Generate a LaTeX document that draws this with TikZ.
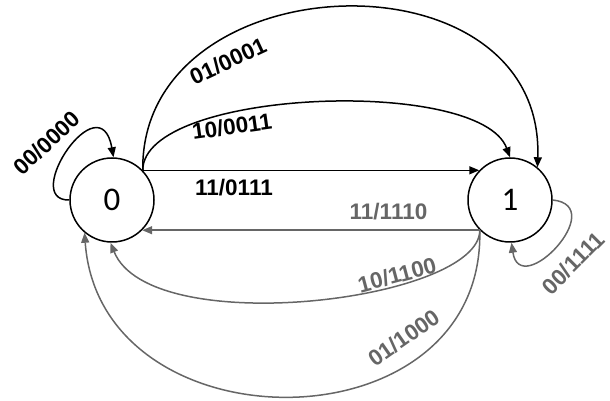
\documentclass[tikz,border=0pt]{standalone}
\usepackage{fontspec}
\setmainfont{Liberation Sans}
\newfontfamily\statefont{Carlito}
\usetikzlibrary{arrows.meta}
\definecolor{backgray}{HTML}{666666}
\newcommand{\statesize}{84pt}
\newcommand{\labelfont}{\fontsize{22.5}{26}\selectfont\bfseries}

\tikzset{
    trans/.style={line width=1.5pt},
    translabel/.style={font=\labelfont,inner sep=0pt}
}

\begin{document}
\begin{tikzpicture}[x=1pt,y=1pt]
                \useasboundingbox (0,0) rectangle (610,401);
                \begin{scope}[every node/.style={circle,draw,line width=1.5pt,minimum size=\statesize,inner sep=0pt,font=\statefont\fontsize{33}{33}\selectfont}]
                    \node (s0) at (112,201) {0};
                    \node (s1) at (510,201) {1};
                \end{scope}

                % transitions out of state 0
                \begin{scope}[>={Stealth[length=10pt,width=8pt,inset=0pt]},
                    every edge/.style={draw=black,trans}]
                    \path [->] (s0.44) edge node {} (s1.136);
                    \draw [->,trans] (s0.44) .. controls (143,312) and (480,325) .. (s1.90);
                    \draw [->,trans] (s0.44) .. controls (140,440) and (545,455) .. (s1.50);
                    \draw [->,trans] (s0.180) .. controls (20,200) and (100,320) .. (s0.88);
                \end{scope}

                % transitions out of state 1
                \begin{scope}[>={Stealth[backgray,length=10pt,width=8pt,inset=0pt]},
                    every edge/.style={draw=backgray,trans}]
                    \path [->] (s1.225) edge node {} (s0.315);
                    \draw [->,trans,backgray] (s1.225) .. controls (480,100) and (150,60) .. (s0.268);
                    \draw [->,trans,backgray] (s1.225) .. controls (485,-50) and (100,-50) .. (s0.230);
                    \draw [->,trans,backgray] (s1.0) .. controls (610,195) and (520,100) .. (s1.272);
                \end{scope}

                % labels
                \node [translabel] (l11a) at (234,213.5) {11/0111};
                \node [translabel,rotate=8] (l10a) at (232,274.5) {10/0011};
                \node [translabel,rotate=25] (l01a) at (228,340) {01/0001};
                \node [translabel,rotate=43] (l00a) at (47,258) {00/0000};
                \begin{scope}[every node/.style={translabel,text=backgray}]
                    \node (l11b) at (388.5,189.5) {11/1110};
                    \node [rotate=15] (l10b) at (397,126) {10/1100};
                    \node [rotate=35] (l01b) at (404,63) {01/1000};
                    \node [rotate=45] (l00b) at (573,138) {00/1111};
                \end{scope}
            \end{tikzpicture}
\end{document}
